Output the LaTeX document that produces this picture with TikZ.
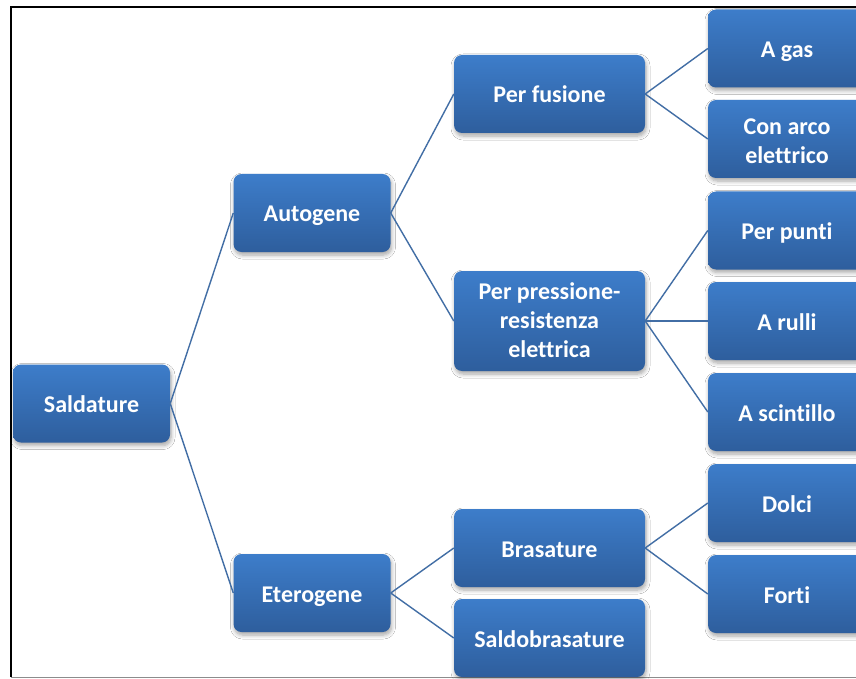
\documentclass[tikz,border=0pt]{standalone}
\usepackage{fontspec}
\setmainfont{Carlito}[Ligatures=CommonOff]
\usetikzlibrary{shadows.blur}
\definecolor{boxtop}{RGB}{61,125,202}
\definecolor{boxbot}{RGB}{46,94,157}
\definecolor{linkc}{RGB}{66,110,165}
\newcommand{\boxstrut}{\rule[-6pt]{0pt}{30pt}}
\newcommand{\mlines}[2]{\raisebox{-#1}[\height][\depth]{\begin{tabular}{@{}c@{}}#2\end{tabular}}}
\tikzset{
  box/.style={rounded corners=8pt, top color=boxtop, bottom color=boxbot, draw=none,
    text=white, font=\bfseries\fontsize{24}{29}\selectfont, align=center,
    minimum height=78pt, inner sep=0pt,
    execute at begin node=\boxstrut, execute at end node=\boxstrut,
    blur shadow={shadow xshift=1pt, shadow yshift=-3pt, shadow blur steps=6, shadow opacity=35, shadow blur radius=4pt}},
  lvlA/.style={box, minimum width=157pt},
  lvlB/.style={box, minimum width=191pt},
  lvlC/.style={box, minimum width=158pt},
  link/.style={draw=linkc, line width=1.4pt},
  frameblack/.style={draw=black, line width=2pt},
  framegray/.style={draw=black!45, line width=1pt}
}
\begin{document}
\begin{tikzpicture}[x=1pt,y=-1pt]
\useasboundingbox (0,0) rectangle (856,679);
\clip (0,0) rectangle (856,679);
\fill[white] (0,0) rectangle (856,679);
% frame
\coordinate (fTL) at (11,7);
\coordinate (fTR) at (856,7);
\coordinate (fBL) at (11,677);
\coordinate (fBR) at (856,677);
\draw[framegray] (fBL) -- (fBR);
\draw[frameblack] (fBL) -- (fTL) -- (fTR);
% nodes
\node[lvlA] (sal) at (91.5,403.5) {Saldature};
\node[lvlA] (aut) at (312,213) {Autogene};
\node[lvlA] (ete) at (312,593) {Eterogene};
\node[lvlB] (fus) at (549.5,94) {Per fusione};
\node[lvlB, minimum height=100pt] (pre) at (549.5,321) {\mlines{2pt}{Per pressione-\\resistenza\\elettrica}};
\node[lvlB] (bra) at (549.5,548) {Brasature};
\node[lvlB] (sbr) at (549.5,638) {Saldobrasature};
\node[lvlC] (gas) at (787,48.5) {A gas};
\node[lvlC] (arc) at (787,139) {\mlines{4pt}{Con arco\\elettrico}};
\node[lvlC] (pun) at (787,230.5) {Per punti};
\node[lvlC] (rul) at (787,321) {A rulli};
\node[lvlC] (sci) at (787,412) {A scintillo};
\node[lvlC] (dol) at (787,503) {Dolci};
\node[lvlC] (for) at (787,594) {Forti};
% links
\draw[link] (sal.east) -- (aut.west);
\draw[link] (sal.east) -- (ete.west);
\draw[link] (aut.east) -- (fus.west);
\draw[link] (aut.east) -- (pre.west);
\draw[link] (ete.east) -- (bra.west);
\draw[link] (ete.east) -- (sbr.west);
\draw[link] (fus.east) -- (gas.west);
\draw[link] (fus.east) -- (arc.west);
\draw[link] (pre.east) -- (pun.west);
\draw[link] (pre.east) -- (rul.west);
\draw[link] (pre.east) -- (sci.west);
\draw[link] (bra.east) -- (dol.west);
\draw[link] (bra.east) -- (for.west);
\end{tikzpicture}
\end{document}
